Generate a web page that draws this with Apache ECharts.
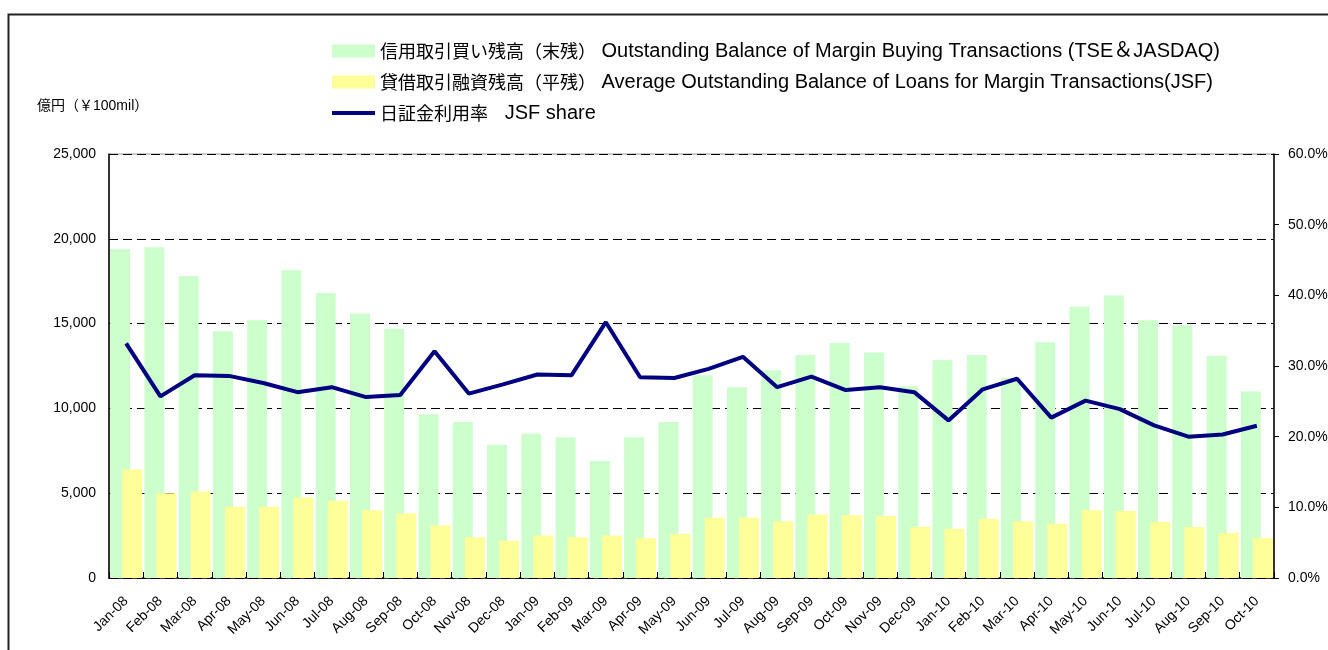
<!DOCTYPE html>
<html>
<head>
<meta charset="utf-8">
<script src="https://cdn.jsdelivr.net/npm/echarts@6/dist/echarts.min.js"></script>
<style>
html,body{margin:0;padding:0;background:#fff;}
#chart{width:1328px;height:650px;}
</style>
</head>
<body>
<div id="chart"></div>
<script>
const months = ['Jan-08','Feb-08','Mar-08','Apr-08','May-08','Jun-08','Jul-08','Aug-08','Sep-08','Oct-08','Nov-08','Dec-08',
  'Jan-09','Feb-09','Mar-09','Apr-09','May-09','Jun-09','Jul-09','Aug-09','Sep-09','Oct-09','Nov-09','Dec-09',
  'Jan-10','Feb-10','Mar-10','Apr-10','May-10','Jun-10','Jul-10','Aug-10','Sep-10','Oct-10'];
const marginBuying = [19400,19500,17800,14550,15200,18150,16800,15600,14700,9650,9200,7850,
  8500,8300,6900,8300,9200,11950,11250,12250,13150,13850,13300,11300,
  12850,13150,11800,13900,16000,16650,15200,14900,13100,11000];
const jsfLoans = [6400,5000,5100,4200,4200,4750,4550,4000,3800,3100,2400,2200,
  2500,2400,2500,2350,2600,3550,3550,3350,3750,3700,3650,3000,
  2900,3500,3350,3200,4000,3950,3300,3000,2650,2350];
const jsfShare = [33.2,25.7,28.7,28.6,27.6,26.3,27.0,25.6,25.9,32.1,26.1,27.4,
  28.8,28.7,36.2,28.4,28.3,29.6,31.3,27.0,28.5,26.6,27.0,26.3,
  22.3,26.7,28.2,22.7,25.1,23.9,21.6,20.0,20.3,21.55];
const seriesNames = [
  '信用取引買い残高（末残） Outstanding Balance of Margin Buying Transactions (TSE＆JASDAQ)',
  '貸借取引融資残高（平残） Average Outstanding Balance of Loans for Margin Transactions(JSF)',
  '日証金利用率   JSF share'
];
const unitLabel = '億円（￥100mil）';

const FONT = '"Liberation Sans", Arial, "Noto Sans CJK JP", sans-serif';
const JPFONT = '"Noto Sans CJK JP", sans-serif';
const chart = echarts.init(document.getElementById('chart'), null, {renderer:'canvas'});
chart.setOption({
  animation: false,
  backgroundColor: '#fff',
  textStyle: {fontFamily: FONT, color: '#000'},
  graphic: [
    {type:'rect', left: 6, top: 12, shape:{x:0,y:0,width:1400,height:700}, style:{fill:'none', stroke:'#222', lineWidth:2}, silent:true},
    {type:'text', left: 37, top: 99, style:{text: unitLabel, font: '14px ' + FONT, fill:'#000'}}
  ],
  legend: {
    orient: 'vertical',
    left: 325,
    top: 36,
    itemWidth: 43,
    itemHeight: 13,
    itemGap: 11,
    formatter: function (name) {
      const i = name.indexOf(' ');
      return '{jp|' + name.slice(0, i) + '}{en|' + name.slice(i) + '}';
    },
    textStyle: {
      fontSize: 18, lineHeight: 20, fontFamily: FONT, color:'#000',
      rich: {
        jp: {fontSize: 18, lineHeight: 20, fontFamily: JPFONT, color: '#000'},
        en: {fontSize: 20, lineHeight: 20, fontFamily: FONT, color: '#000'}
      }
    },
    data: [
      {name: seriesNames[0], icon: 'rect'},
      {name: seriesNames[1], icon: 'rect'},
      {name: seriesNames[2], itemStyle: {opacity: 0, borderWidth: 0}, lineStyle: {width: 4, color: '#000080'}}
    ]
  },
  grid: {
    left: 109, right: 54, top: 154, bottom: 72,
    show: true, borderColor: '#999', borderWidth: 1,
    outerBoundsMode: 'none', containLabel: false
  },
  xAxis: {
    type: 'category',
    data: months,
    boundaryGap: true,
    axisLine: {lineStyle: {color: '#000', width: 1.5}},
    axisTick: {show: true, inside: true, length: 6, lineStyle: {color:'#000'}, alignWithLabel: false},
    axisLabel: {rotate: 45, interval: 0, fontSize: 14, color: '#000', margin: 21}
  },
  yAxis: [
    {
      type: 'value', min: 0, max: 25000, interval: 5000,
      axisLine: {show: true, lineStyle: {color:'#000', width: 1.5}},
      axisTick: {show: false},
      axisLabel: {fontSize: 14, color:'#000', margin: 13,
        formatter: v => v.toLocaleString('en-US')},
      splitLine: {show: true, lineStyle: {color:'#000', type:[9,5], width:1}}
    },
    {
      type: 'value', min: 0, max: 60, interval: 10, position: 'right',
      axisLine: {show: true, lineStyle: {color:'#000', width: 1.5}},
      axisTick: {show: true, length: 5, lineStyle:{color:'#000'}},
      axisLabel: {fontSize: 14, color:'#000', margin: 14,
        formatter: v => v.toFixed(1) + '%'},
      splitLine: {show: false}
    }
  ],
  series: [
    {
      name: seriesNames[0], type: 'bar', data: marginBuying,
      barWidth: 20, barGap: '-40%',
      itemStyle: {color: '#CCFFCC'}
    },
    {
      name: seriesNames[1], type: 'bar', data: jsfLoans,
      barWidth: 20, barGap: '-40%',
      itemStyle: {color: '#FFFF99'}
    },
    {
      name: seriesNames[2], type: 'line', yAxisIndex: 1, data: jsfShare,
      symbol: 'none', smooth: false,
      lineStyle: {color: '#000080', width: 4},
      itemStyle: {color: '#000080'},
      z: 5
    }
  ]
});
</script>
</body>
</html>
